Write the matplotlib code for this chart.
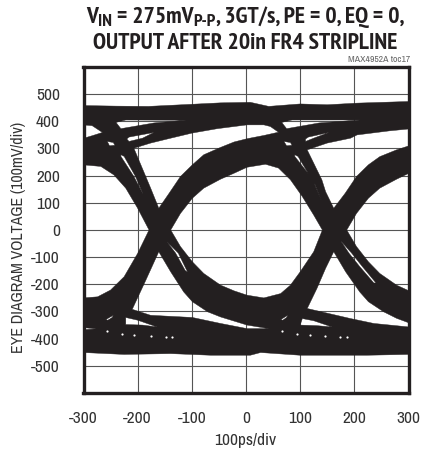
import matplotlib
matplotlib.use("Agg")
import matplotlib.pyplot as plt
import numpy as np
from matplotlib.path import Path
from matplotlib.patches import PathPatch

FONTS = ["Archivo Narrow", "Roboto Condensed", "Liberation Sans Narrow", "Liberation Sans", "DejaVu Sans"]
TITLE_FONTS = ["PT Sans Narrow", "Archivo Narrow", "Liberation Sans", "DejaVu Sans"]
plt.rcParams["font.family"] = FONTS
plt.rcParams["axes.unicode_minus"] = False

# title line 1 pieces: text, is it a subscript
title_1_parts = [("V", False), ("IN", True), (" = 275mV", False), ("P-P", True),
                 (", 3GT/s, PE = 0, EQ = 0,", False)]
TITLE_2 = "OUTPUT AFTER 20in FR4 STRIPLINE"
TOC_LABEL = "MAX4952A toc17"
X_LABEL = "100ps/div"
Y_LABEL = "EYE DIAGRAM VOLTAGE (100mV/div)"

x_ticks = [-300, -200, -100, 0, 100, 200, 300]
y_ticks = [-500, -400, -300, -200, -100, 0, 100, 200, 300, 400, 500]

# outer edges of the trace, (ps, mV)
rail_top = [(-300, 458), (-240, 456), (-180, 455), (-108, 462), (-47, 468), (8, 470), (42, 455),
            (100, 464), (150, 461), (205, 467), (300, 473)]
rail_bottom = [(300, -458), (223, -461), (100, -461), (27, -451), (8, -461), (-65, -461),
               (-139, -455), (-225, -458), (-300, -451)]

# white areas inside the trace
eye_left = [(-301, 240), (-268, 234), (-244, 203), (-222, 154), (-200, 80), (-179, 0),
            (-200, -86), (-225, -172), (-250, -221), (-274, -246), (-301, -250)]
eye_center = [(-139, 0), (-121, 61), (-99, 117), (-78, 154), (-47, 187), (-22, 209), (2, 231),
              (36, 242), (60, 228), (82, 185), (104, 123), (125, 55), (141, 0), (125, -80),
              (100, -154), (82, -203), (64, -234), (33, -250), (2, -240), (-22, -224), (-47, -203),
              (-78, -160), (-99, -117), (-121, -61)]
eye_right = [(186, 0), (204, 61), (226, 117), (247, 154), (278, 187), (301, 209), (301, -224),
             (278, -203), (247, -160), (226, -117), (204, -61)]
upper_gap_left = [(-161, 80), (-176, 154), (-207, 301), (-176, 320), (-139, 338), (-99, 357),
                  (-53, 373), (2, 387), (33, 387), (45, 381), (60, 360), (33, 348), (2, 336),
                  (-22, 324), (-47, 304), (-78, 277), (-99, 240), (-121, 197), (-142, 135)]
upper_gap_right = [(162, 80), (147, 141), (140, 185), (113, 295), (150, 320), (193, 338), (205, 350),
                   (265, 365), (301, 372), (301, 310), (278, 295), (247, 270), (226, 240),
                   (204, 197), (183, 135)]
lower_gap_left = [(-161, -80), (-139, -154), (-115, -228), (-99, -264), (-71, -301), (-47, -320),
                  (2, -350), (42, -363), (2, -363), (-47, -344), (-99, -322), (-176, -314),
                  (-210, -292), (-185, -185)]
lower_gap_right = [(162, -80), (184, -154), (210, -228), (226, -264), (254, -301), (278, -325),
                   (301, -342), (301, -357), (236, -344), (193, -326), (113, -289), (131, -215),
                   (147, -141)]
wedge_ul = [(-301, 387), (-284, 384), (-265, 359), (-284, 347), (-301, 337)]
wedge_ur = [(-240, 396), (-231, 373), (-170, 394), (-111, 404), (-222, 405)]
wedge_um = [(-220, 335), (-216, 342), (-170, 359), (-191, 338), (-216, 326)]
dot_um = [(-256, 326), (-245, 322), (-242, 312), (-252, 310)]
sliver_u = [(-231, 277), (-225, 271), (-204, 197), (-190, 132), (-207, 197), (-231, 271)]
wedge_ur2 = [(66, 396), (75, 373), (135, 394), (210, 405), (85, 405)]
wedge_um2 = [(110, 335), (115, 342), (153, 359), (125, 338), (110, 326)]
dot_um2 = [(70, 326), (82, 322), (85, 312), (75, 310)]
sliver_u2 = [(90, 277), (96, 271), (128, 165), (140, 105), (122, 190), (90, 271)]
wedge_ll = [(-222, -322), (-200, -332), (-164, -357), (-191, -350), (-222, -348)]
wedge_ll2 = [(104, -326), (125, -334), (159, -357), (130, -352), (100, -350)]
wedge_lc = [(-259, -330), (-245, -314), (-247, -322), (-255, -332)]
wedge_lc2 = [(64, -330), (77, -314), (75, -322), (68, -332)]
wedge_le = [(-301, -359), (-277, -364), (-301, -367)]
sliver_l = [(-146, -43), (-125, -85), (-108, -154), (-112, -150), (-130, -85)]
sliver_l2 = [(175, -40), (195, -85), (215, -135), (240, -195), (236, -195), (210, -135), (190, -85)]
speck_x = [-256, -228, -207, -176, -148, -136, 66, 94, 119, 146, 174, 186]
speck_y = [-373, -381, -387, -391, -393, -393, -373, -381, -387, -391, -393, -393]

holes = [eye_left, eye_center, eye_right, upper_gap_left, upper_gap_right, lower_gap_left,
         lower_gap_right, wedge_ul, wedge_ur, wedge_um, dot_um, sliver_u, wedge_ur2, wedge_um2,
         dot_um2, sliver_u2, wedge_ll, wedge_ll2, wedge_lc, wedge_lc2, wedge_le, sliver_l, sliver_l2]


def ring(points, clockwise):
    pts = np.array(points, dtype=float)
    area = 0.5 * np.sum(pts[:, 0] * np.roll(pts[:, 1], -1) - np.roll(pts[:, 0], -1) * pts[:, 1])
    if (area < 0) != clockwise:
        pts = pts[::-1]
    codes = [Path.MOVETO] + [Path.LINETO] * (len(pts) - 1) + [Path.CLOSEPOLY]
    return np.vstack([pts, pts[0]]), codes


def trace_path():
    verts, codes = ring(rail_top + rail_bottom, False)
    verts, codes = [verts], list(codes)
    for h in holes:
        v, c = ring(h, True)
        verts.append(v)
        codes += c
    return Path(np.vstack(verts), codes)


def draw_title_line(fig, parts, x_center, y_base, size, sub_size, sub_drop):
    # lay the pieces out left to right, centred on x_center (pixels)
    r = fig.canvas.get_renderer()
    items = []
    for txt, sub in parts:
        fs = sub_size if sub else size
        t = fig.text(0, 0, txt, fontsize=fs, weight="bold", family=TITLE_FONTS, color="#231f20",
                     ha="left", va="baseline")
        # trailing/leading spaces are not measured, so measure with guards
        probe = fig.text(0, 0, "|" + txt + "|", fontsize=fs, weight="bold", family=TITLE_FONTS)
        bar = fig.text(0, 0, "||", fontsize=fs, weight="bold", family=TITLE_FONTS)
        w = probe.get_window_extent(r).width - bar.get_window_extent(r).width
        probe.remove()
        bar.remove()
        items.append((t, sub, w))
    x = x_center - sum(i[2] for i in items) / 2
    for t, sub, w in items:
        y = y_base + (sub_drop if sub else 0)
        t.set_position((x / 422, 1 - y / 454))
        x += w


fig = plt.figure(figsize=(4.22, 4.54), dpi=100, facecolor="white")
ax = fig.add_axes([83.5 / 422, 1 - 393 / 454, 325 / 422, 326 / 454])
ax.set_xlim(-300, 300)
ax.set_ylim(-600, 600)

for x in x_ticks[1:-1]:
    ax.axvline(x, color="#555555", lw=0.8, zorder=1)
for y in y_ticks:
    ax.axhline(y, color="#555555", lw=0.8, zorder=1)

ax.add_patch(PathPatch(trace_path(), facecolor="#231f20", edgecolor="#231f20", lw=0.3, zorder=3))
ax.scatter(speck_x, speck_y, s=2.5, color="white", linewidths=0, zorder=4)

ax.set_xticks(x_ticks)
ax.set_yticks(y_ticks)
ax.tick_params(length=0, labelsize=12.5, labelcolor="#333333")
ax.tick_params(axis="x", pad=13)
ax.tick_params(axis="y", pad=17)
for s in ax.spines.values():
    s.set_linewidth(2.4)
    s.set_color("#231f20")
    s.set_zorder(5)

fig.text(245 / 422, 1 - 441 / 454, X_LABEL, ha="center", va="center", fontsize=12.5, color="#333333")
fig.text(19 / 422, 1 - 237 / 454, Y_LABEL, ha="center", va="center", rotation=90, fontsize=11.5,
         color="#333333")
draw_title_line(fig, title_1_parts, 245, 23, 17, 13, 3)
fig.text(245 / 422, 1 - 49 / 454, TITLE_2, ha="center", va="baseline", fontsize=17, weight="bold",
         family=TITLE_FONTS, color="#231f20")
fig.text(410 / 422, 1 - 60 / 454, TOC_LABEL, ha="right", va="center", fontsize=7, color="#666666")

fig.savefig("out.png", dpi=100, facecolor="white")
